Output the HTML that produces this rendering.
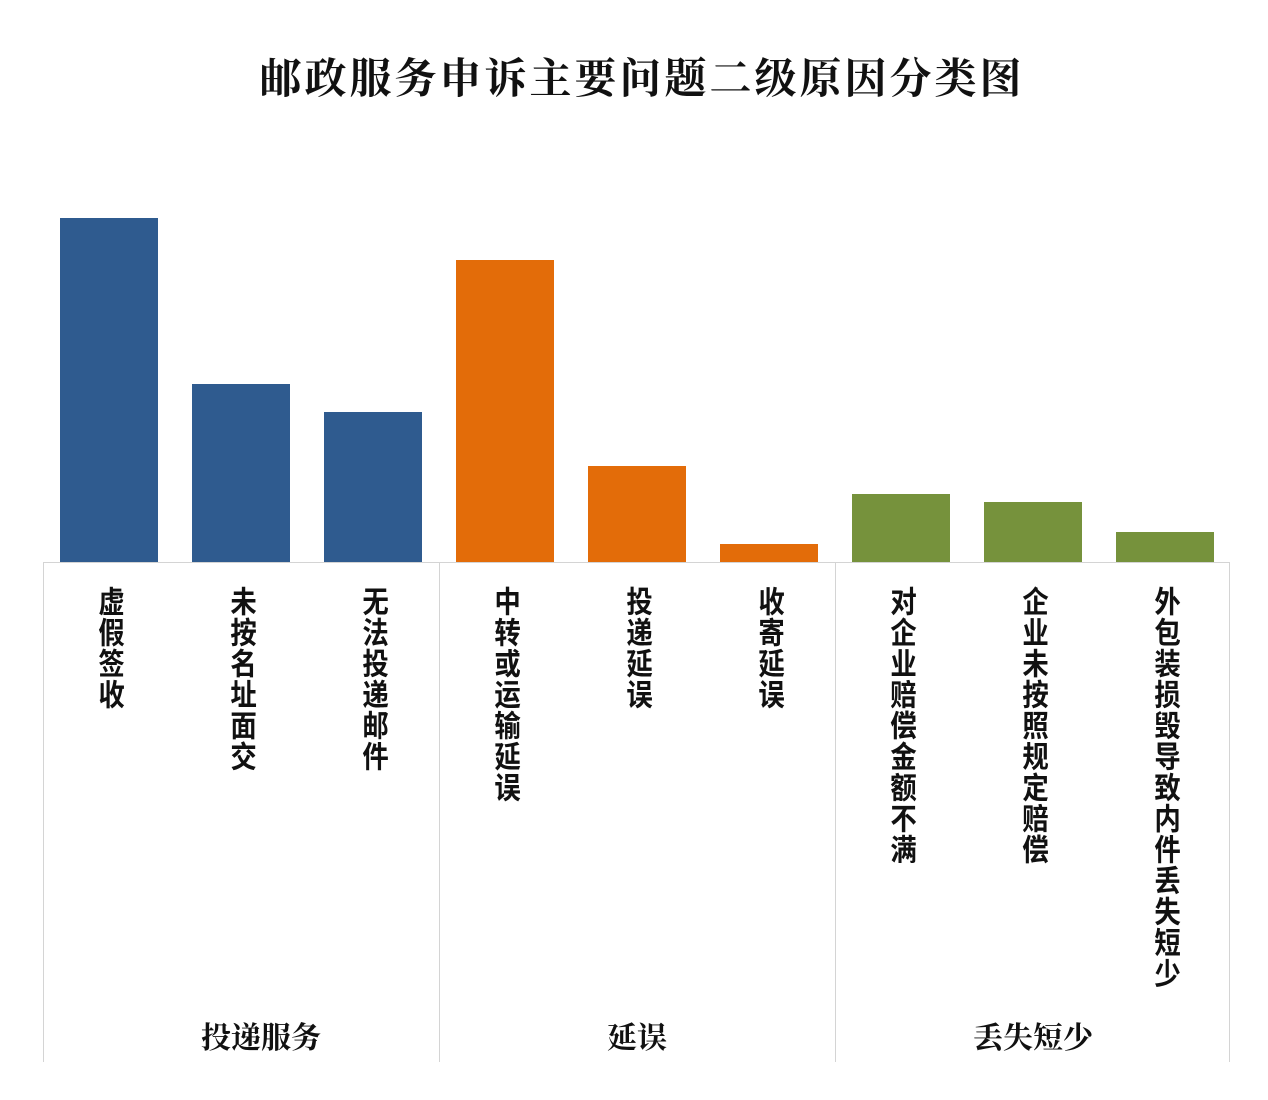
<!DOCTYPE html>
<html><head><meta charset="utf-8">
<style>
html,body{margin:0;padding:0;background:#fff;}
body{width:1268px;height:1100px;position:relative;overflow:hidden;font-family:"Liberation Sans","Noto Sans CJK SC",sans-serif;}
#title{position:absolute;left:0;width:1284px;top:46px;text-align:center;font-size:42px;font-weight:bold;color:#111;font-family:"Liberation Serif","Noto Serif CJK SC",serif;letter-spacing:3px;}
svg{position:absolute;left:0;top:0;}
.cat{position:absolute;top:586px;writing-mode:vertical-rl;text-orientation:upright;font-size:30px;line-height:30px;font-weight:bold;color:#111;letter-spacing:1px;transform:scaleX(0.88);transform-origin:center top;}
.grp{position:absolute;top:1013px;width:396px;text-align:center;font-size:30px;font-weight:bold;color:#111;font-family:"Liberation Serif","Noto Serif CJK SC",serif;}
</style></head>
<body>
<div id="title">邮政服务申诉主要问题二级原因分类图</div>
<svg id="chart" width="1268" height="1100"></svg>
<script>
const categories=["虚假签收","未按名址面交","无法投递邮件","中转或运输延误","投递延误","收寄延误","对企业赔偿金额不满","企业未按照规定赔偿","外包装损毁导致内件丢失短少"];
const values=[344,178,150,302,96,18,68,60,30];
const groupIndex=[0,0,0,1,1,1,2,2,2];
const groups=["投递服务","延误","丢失短少"];
const groupColors=["#2f5b8f","#e36c09","#76923c"];

const svg=document.getElementById('chart');
const NS="http://www.w3.org/2000/svg";
const left=43,slot=132,base=562,barW=98,scale=1;
function xPos(i){return left+i*slot+17;}
function yPos(v){return base-v*scale;}
categories.forEach((c,i)=>{
  const r=document.createElementNS(NS,'rect');
  r.setAttribute('x',xPos(i));r.setAttribute('y',yPos(values[i]));
  r.setAttribute('width',barW);r.setAttribute('height',base-yPos(values[i]));
  r.setAttribute('fill',groupColors[groupIndex[i]]);
  
  
  svg.appendChild(r);
  const d=document.createElement('div');
  d.className='cat';d.textContent=c;
  d.style.left=(xPos(i)+barW/2-16)+'px';
  
  
  document.body.appendChild(d);
});
const ax=document.createElementNS(NS,'path');
let p='M'+left+' '+(base+0.5)+'H'+(left+slot*9-2);
for(let g=0;g<=3;g++){const x=left+g*slot*3+0.5-(g===3?2:0);p+='M'+x+' '+base+'V1062';}
ax.setAttribute('d',p);ax.setAttribute('stroke','#d4d4d4');ax.setAttribute('stroke-width','1');ax.setAttribute('fill','none');


svg.appendChild(ax);
const grpOffsets=[20,0,0];
groups.forEach((g,k)=>{
  const d=document.createElement('div');
  d.className='grp';d.textContent=g;d.style.left=(left+k*slot*3+grpOffsets[k])+'px';
  
  
  document.body.appendChild(d);
});
</script>
</body></html>
